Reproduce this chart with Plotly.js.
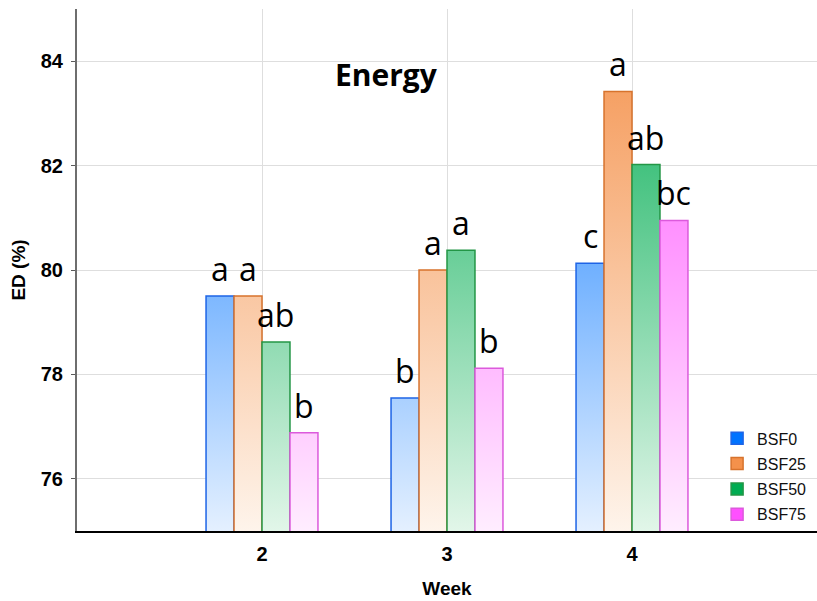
<!DOCTYPE html>
<html>
<head>
<meta charset="utf-8">
<script src="https://cdn.plot.ly/plotly-3.0.1.min.js"></script>
<style>
  html, body { margin: 0; padding: 0; background: #fff; }
  #chart { width: 817px; height: 601px; }
</style>
</head>
<body>
<div id="chart"></div>
<script>
// ---- Data ----
const weeks = [2, 3, 4];
const seriesNames = ['BSF0', 'BSF25', 'BSF50', 'BSF75'];
const bsf0  = [79.50, 77.55, 80.13];
const bsf25 = [79.50, 80.00, 83.42];
const bsf50 = [78.62, 80.38, 82.02];
const bsf75 = [76.88, 78.12, 80.95];
const letters0  = ['a', 'b', 'c'];
const letters25 = ['a', 'a', 'a'];
const letters50 = ['ab', 'a', 'ab'];
const letters75 = ['b', 'b', 'bc'];
const yTicks = [76, 78, 80, 82, 84];
const chartTitle = 'Energy';
const xTitle = 'Week';
const yTitle = 'ED (%)';

// ---- Styles ----
const topColors    = ['rgb(0,115,255)', 'rgb(244,145,75)', 'rgb(0,172,82)', 'rgb(255,80,255)'];
const bottomColors = ['rgb(228,240,255)', 'rgb(254,244,235)', 'rgb(226,246,233)', 'rgb(255,237,255)'];
const lineColors   = ['rgb(30,100,230)', 'rgb(215,115,45)', 'rgb(35,150,70)', 'rgb(220,90,220)'];
const BARGAP = 0.395;
const labelFont = { family: '"Open Sans", "Liberation Sans", sans-serif', size: 32, color: '#000' };

const values = [bsf0, bsf25, bsf50, bsf75];
const letters = [letters0, letters25, letters50, letters75];

const traces = seriesNames.map((name, i) => ({
  type: 'bar',
  name: name,
  x: weeks,
  y: values[i],
  marker: { color: topColors[i], line: { color: lineColors[i], width: 1.5 } },
  legendgroup: name,
  hoverinfo: 'x+y+name'
}));

// significance letters placed above each bar (bar offset derived from group layout)
const nSeries = seriesNames.length;
const barW = (1 - BARGAP) / nSeries;
const letterAnnotations = [];
seriesNames.forEach((name, i) => {
  weeks.forEach((w, j) => {
    letterAnnotations.push({
      text: letters[i][j],
      x: w + (i - (nSeries - 1) / 2) * barW,
      y: values[i][j],
      xref: 'x', yref: 'y',
      xanchor: 'center', yanchor: 'bottom',
      yshift: 4,
      showarrow: false,
      font: labelFont
    });
  });
});

const layout = {
  width: 817,
  height: 601,
  margin: { l: 77, r: 0, t: 9, b: 70 },
  paper_bgcolor: '#fff',
  plot_bgcolor: '#fff',
  barmode: 'group',
  bargap: BARGAP,
  bargroupgap: 0,
  font: { family: '"Liberation Sans", Arial, sans-serif', color: '#000' },
  showlegend: true,
  legend: {
    x: 0.865, xanchor: 'left',
    y: 0.21, yanchor: 'top',
    bgcolor: 'rgba(0,0,0,0)',
    font: { size: 16, family: '"Liberation Sans", Arial, sans-serif', color: '#111' },
    traceorder: 'grouped',
    tracegroupgap: 1.5,
    itemwidth: 30
  },
  xaxis: {
    range: [1, 5],
    tickvals: weeks,
    ticktext: weeks.map(String),
    ticks: '',
    showgrid: true,
    gridcolor: 'rgb(222,222,222)',
    gridwidth: 1,
    zeroline: false,
    showline: true,
    linecolor: '#000',
    linewidth: 2,
    tickfont: { size: 20, weight: 'bold', family: '"Liberation Sans", Arial, sans-serif' },
    ticklabelstandoff: 4,
    title: { text: xTitle, font: { size: 19, weight: 'bold' }, standoff: 18 },
    fixedrange: true
  },
  xaxis2: {
    overlaying: 'x',
    side: 'top',
    anchor: 'y',
    range: [1, 5],
    tickvals: weeks,
    ticks: 'inside',
    ticklen: 4,
    tickcolor: 'rgb(90,90,90)',
    showticklabels: false,
    showgrid: false,
    zeroline: false,
    showline: true,
    linecolor: 'rgb(110,110,110)',
    linewidth: 2,
    fixedrange: true
  },
  yaxis: {
    range: [75, 85],
    tickvals: yTicks,
    ticks: 'outside',
    ticklen: 4,
    tickcolor: 'rgb(90,90,90)',
    showgrid: true,
    gridcolor: 'rgb(222,222,222)',
    gridwidth: 1,
    zeroline: false,
    showline: true,
    linecolor: 'rgb(110,110,110)',
    linewidth: 2,
    tickfont: { size: 20, weight: 'bold', family: '"Liberation Sans", Arial, sans-serif' },
    ticklabelstandoff: 4,
    title: { text: yTitle, font: { size: 19, weight: 'bold' }, standoff: 10 },
    fixedrange: true
  },
  annotations: [{
    text: chartTitle,
    xref: 'paper', yref: 'paper',
    x: 0.4176, y: 0.8736,
    xanchor: 'center', yanchor: 'middle',
    showarrow: false,
    font: { family: '"Open Sans", "Liberation Sans", sans-serif', size: 30, weight: 'bold', color: '#000' }
  }].concat(letterAnnotations)
};

Plotly.newPlot('chart', traces, layout, { displayModeBar: false, staticPlot: true }).then(gd => {
  // Apply vertical gradients (in axis space) to the bar fills
  const ya = gd._fullLayout.yaxis;
  const svg = gd.querySelector('svg.main-svg');
  let defs = svg.querySelector('defs');
  if (!defs) {
    defs = document.createElementNS('http://www.w3.org/2000/svg', 'defs');
    svg.insertBefore(defs, svg.firstChild);
  }
  const y1 = ya.c2p(ya.range[1]);
  const y2 = ya.c2p(ya.range[0]);
  seriesNames.forEach((n, i) => {
    const g = document.createElementNS('http://www.w3.org/2000/svg', 'linearGradient');
    g.setAttribute('id', 'barGrad' + i);
    g.setAttribute('gradientUnits', 'userSpaceOnUse');
    g.setAttribute('x1', '0'); g.setAttribute('x2', '0');
    g.setAttribute('y1', String(y1)); g.setAttribute('y2', String(y2));
    const s1 = document.createElementNS('http://www.w3.org/2000/svg', 'stop');
    s1.setAttribute('offset', '0'); s1.setAttribute('stop-color', topColors[i]);
    const s2 = document.createElementNS('http://www.w3.org/2000/svg', 'stop');
    s2.setAttribute('offset', '1'); s2.setAttribute('stop-color', bottomColors[i]);
    g.appendChild(s1); g.appendChild(s2);
    defs.appendChild(g);
  });
  const traceGroups = gd.querySelectorAll('.barlayer .trace');
  traceGroups.forEach((tg, i) => {
    tg.querySelectorAll('.point path').forEach(p => {
      p.style.fill = 'url(#barGrad' + i + ')';
    });
  });
});
</script>
</body>
</html>
